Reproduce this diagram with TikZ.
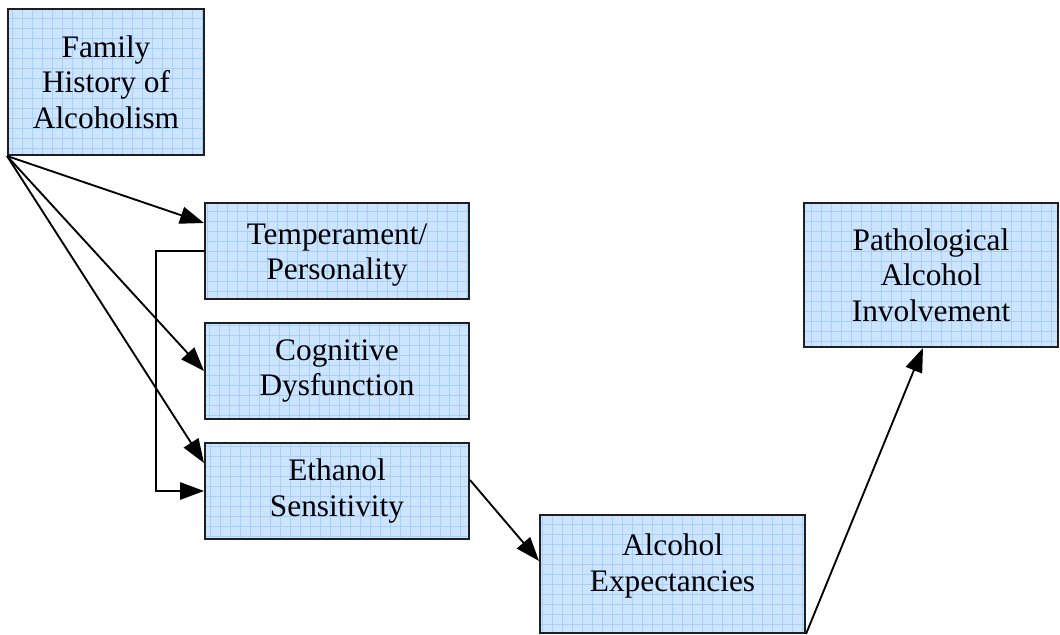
\documentclass[tikz,border=0pt]{standalone}
\usepackage{fontspec}
\setmainfont{Liberation Serif}
\usetikzlibrary{arrows.meta,calc}
\definecolor{boxfill}{RGB}{204,228,255}
\definecolor{gridcol}{RGB}{165,208,250}
\definecolor{boxline}{RGB}{30,30,30}
\begin{document}
\begin{tikzpicture}[x=0.75pt,y=-0.75pt,
  box/.style={draw=boxline, line width=1.5pt, fill=boxfill, align=center, inner sep=0pt,
    font=\fontsize{23.5}{26.6}\selectfont,
    path picture={\draw[gridcol, line width=0.6pt] (path picture bounding box.south west) grid[step=7.5pt] (path picture bounding box.north east);}},
  txt/.style={align=center, inner sep=0pt, font=\fontsize{23.5}{26.6}\selectfont},
  arr/.style={line width=1.4pt, -{Triangle[length=18pt,width=13pt]}}]
\useasboundingbox (0,0) rectangle (1060,635);

\node[box, minimum width=147pt, minimum height=109.5pt] (fam) at (106,82) {Family\\History of\\Alcoholism};
\node[box, minimum width=198pt, minimum height=72pt] (temp) at (337,251) {};
\node[txt] (tempt) at (337,255) {Temperament/\\Personality};
\node[box, minimum width=198pt, minimum height=72pt] (cog) at (337,371) {Cognitive\\Dysfunction};
\node[box, minimum width=198pt, minimum height=72pt] (eth) at (337,491) {Ethanol\\Sensitivity};
\node[box, minimum width=198.75pt, minimum height=88.5pt] (alc) at (672.5,574) {};
\node[txt] (alct) at (672.5,566) {Alcohol\\Expectancies};
\node[box, minimum width=190.5pt, minimum height=108pt] (pat) at (931,275) {Pathological\\Alcohol\\Involvement};

\draw[arr] (fam.south west) -- ($(temp.west)+(0,-28)$);
\draw[arr] (fam.south west) -- (cog.west);
\draw[arr] (fam.south west) -- ($(eth.west)+(0,-28)$);
\draw[arr] (temp.west) -- ++(-48,0) |- (eth.west);
\draw[arr] ($(eth.east)+(0,-11)$) -- ($(alc.west)+(0,-13)$);
\draw[arr] (alc.south east) -- ($(pat.south)+(-8,0)$);
\end{tikzpicture}
\end{document}
